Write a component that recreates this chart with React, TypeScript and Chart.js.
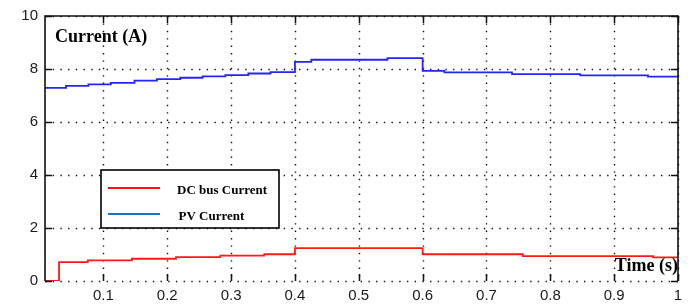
import React, { useEffect, useRef } from 'react';
import { Chart, registerables } from 'chart.js';

Chart.register(...registerables);

// ---- data ----
const pvTimes = [0.0085, 0.0414, 0.0765, 0.1116, 0.1487, 0.1838, 0.2204, 0.2554, 0.291, 0.327, 0.3617, 0.4, 0.4256, 0.5449, 0.6, 0.634, 0.74, 0.847, 0.953, 1.0];
const pvCurrent = [7.29, 7.36, 7.42, 7.48, 7.56, 7.62, 7.67, 7.72, 7.77, 7.83, 7.88, 8.27, 8.35, 8.41, 7.93, 7.87, 7.81, 7.76, 7.71, 7.71];
const dcTimes = [0.0085, 0.0305, 0.0755, 0.1446, 0.2137, 0.283, 0.352, 0.4, 0.6, 0.757, 0.961, 1.0];
const dcCurrent = [0, 0.71, 0.78, 0.84, 0.9, 0.96, 1.01, 1.24, 1.01, 0.94, 0.89, 0.89];
const xTicks = [0.1, 0.2, 0.3, 0.4, 0.5, 0.6, 0.7, 0.8, 0.9, 1];
const yTicks = [0, 2, 4, 6, 8, 10];
const seriesLabels = ['DC bus Current', 'PV Current'];
const yAxisLabel = 'Current (A)';
const xAxisLabel = 'Time (s)';
const X_MIN = 0.0085;
const X_MAX = 1;
const Y_MIN = 0;
const Y_MAX = 10;

const SERIF = '"Liberation Serif", "Times New Roman", serif';
const SANS = '"Liberation Sans", Arial, sans-serif';

const matlabPlugin = {
  id: 'matlabFrame',
  beforeDatasetsDraw(chart: any) {
    const { ctx, chartArea: a, scales } = chart;
    const x = scales.x;
    const y = scales.y;
    ctx.save();
    ctx.strokeStyle = '#111';
    ctx.lineWidth = 1.4;
    ctx.setLineDash([1.4, 6]);
    xTicks.forEach((v) => {
      const px = Math.round(x.getPixelForValue(v)) + 0.5;
      ctx.beginPath();
      ctx.moveTo(px, a.top);
      ctx.lineTo(px, a.bottom);
      ctx.stroke();
    });
    ctx.setLineDash([1.4, 6.3]);
    yTicks.forEach((v) => {
      const py = Math.round(y.getPixelForValue(v)) + 0.5;
      ctx.beginPath();
      ctx.moveTo(a.left, py);
      ctx.lineTo(a.right, py);
      ctx.stroke();
    });
    ctx.restore();
  },
  afterDatasetsDraw(chart: any) {
    const { ctx, chartArea: a, scales } = chart;
    const x = scales.x;
    const y = scales.y;
    ctx.save();
    // frame (left, top, right)
    ctx.strokeStyle = '#111';
    ctx.lineWidth = 1.6;
    ctx.beginPath();
    ctx.moveTo(a.left, a.bottom);
    ctx.lineTo(a.left, a.top);
    ctx.lineTo(a.right, a.top);
    ctx.lineTo(a.right, a.bottom);
    ctx.stroke();
    // inward ticks
    const tl = 7;
    ctx.lineWidth = 1.5;
    xTicks.forEach((v) => {
      const px = Math.round(x.getPixelForValue(v)) + 0.5;
      ctx.beginPath();
      ctx.moveTo(px, a.bottom);
      ctx.lineTo(px, a.bottom - tl);
      ctx.moveTo(px, a.top);
      ctx.lineTo(px, a.top + tl);
      ctx.stroke();
    });
    yTicks.forEach((v) => {
      const py = Math.round(y.getPixelForValue(v)) + 0.5;
      ctx.beginPath();
      ctx.moveTo(a.left, py);
      ctx.lineTo(a.left + tl, py);
      ctx.moveTo(a.right, py);
      ctx.lineTo(a.right - tl, py);
      ctx.stroke();
    });
    // axis titles inside plot
    ctx.fillStyle = '#000';
    ctx.font = `bold 18px ${SERIF}`;
    ctx.textBaseline = 'alphabetic';
    ctx.textAlign = 'left';
    ctx.fillText(yAxisLabel, a.left + 10, a.top + 26);
    ctx.textAlign = 'right';
    ctx.fillText(xAxisLabel, a.right, a.bottom - 10.5);

    // legend box
    const lx = a.left + 56;
    const ly = a.top + 154;
    const lw = 178;
    const lh = 58;
    ctx.fillStyle = '#fff';
    ctx.fillRect(lx, ly, lw, lh);
    ctx.strokeStyle = '#000';
    ctx.lineWidth = 1.6;
    ctx.strokeRect(lx, ly, lw, lh);
    const legendColors = ['#ff1010', '#1a72cc'];
    const rows = [ly + 18, ly + 44];
    seriesLabels.forEach((lab, i) => {
      ctx.strokeStyle = legendColors[i];
      ctx.lineWidth = 1.8;
      ctx.beginPath();
      ctx.moveTo(lx + 7, rows[i]);
      ctx.lineTo(lx + 59, rows[i]);
      ctx.stroke();
      ctx.fillStyle = '#000';
      ctx.font = `bold 13px ${SERIF}`;
      ctx.textAlign = 'left';
      ctx.textBaseline = 'alphabetic';
      ctx.fillText(lab, lx + 76 + (i === 1 ? 1.5 : 0), rows[i] + 5.5);
    });
    ctx.restore();
  },
};

export default function App() {
  const canvasRef = useRef<HTMLCanvasElement | null>(null);

  useEffect(() => {
    document.body.style.margin = '0';
    const canvas = canvasRef.current;
    if (!canvas) return;
    const chart = new Chart(canvas, {
      type: 'line',
      data: {
        datasets: [
          {
            label: seriesLabels[0],
            data: dcTimes.map((t, i) => ({ x: t, y: dcCurrent[i] })),
            borderColor: '#ff1a1a',
            borderWidth: 1.8,
            pointRadius: 0,
            stepped: 'before',
            fill: false,
          },
          {
            label: seriesLabels[1],
            data: pvTimes.map((t, i) => ({ x: t, y: pvCurrent[i] })),
            borderColor: '#2424ff',
            borderWidth: 1.8,
            pointRadius: 0,
            stepped: 'before',
            fill: false,
          },
        ],
      },
      options: {
        responsive: false,
        animation: false,
        devicePixelRatio: 1,
        layout: { padding: { top: 15, right: 14, left: 0, bottom: 0 } },
        plugins: {
          legend: { display: false },
          tooltip: { enabled: false },
        },
        scales: {
          x: {
            type: 'linear',
            min: X_MIN,
            max: X_MAX,
            afterBuildTicks: (s: any) => {
              s.ticks = xTicks.map((v) => ({ value: v }));
            },
            afterFit: (s: any) => {
              s.height = 23;
            },
            grid: { display: false, drawTicks: false },
            border: { display: false },
            ticks: {
              autoSkip: false,
              maxRotation: 0,
              padding: 6,
              color: '#1a1a1a',
              font: { family: SANS, size: 15 },
              callback: (v: any) => (v === 1 ? '1' : Number(v).toFixed(1)),
            },
          },
          y: {
            type: 'linear',
            min: Y_MIN,
            max: Y_MAX,
            afterBuildTicks: (s: any) => {
              s.ticks = yTicks.map((v) => ({ value: v }));
            },
            afterFit: (s: any) => {
              s.width = 45;
            },
            grid: { display: false, drawTicks: false },
            border: { display: false },
            ticks: {
              padding: 7,
              color: '#1a1a1a',
              font: { family: SANS, size: 15 },
              callback: (v: any) => String(v),
            },
          },
        },
      },
      plugins: [matlabPlugin],
    });
    return () => chart.destroy();
  }, []);

  return (
    <div style={{ width: 692, height: 304, background: '#fff' }}>
      <canvas ref={canvasRef} width={692} height={304} style={{ display: 'block', width: 692, height: 304 }} />
    </div>
  );
}
